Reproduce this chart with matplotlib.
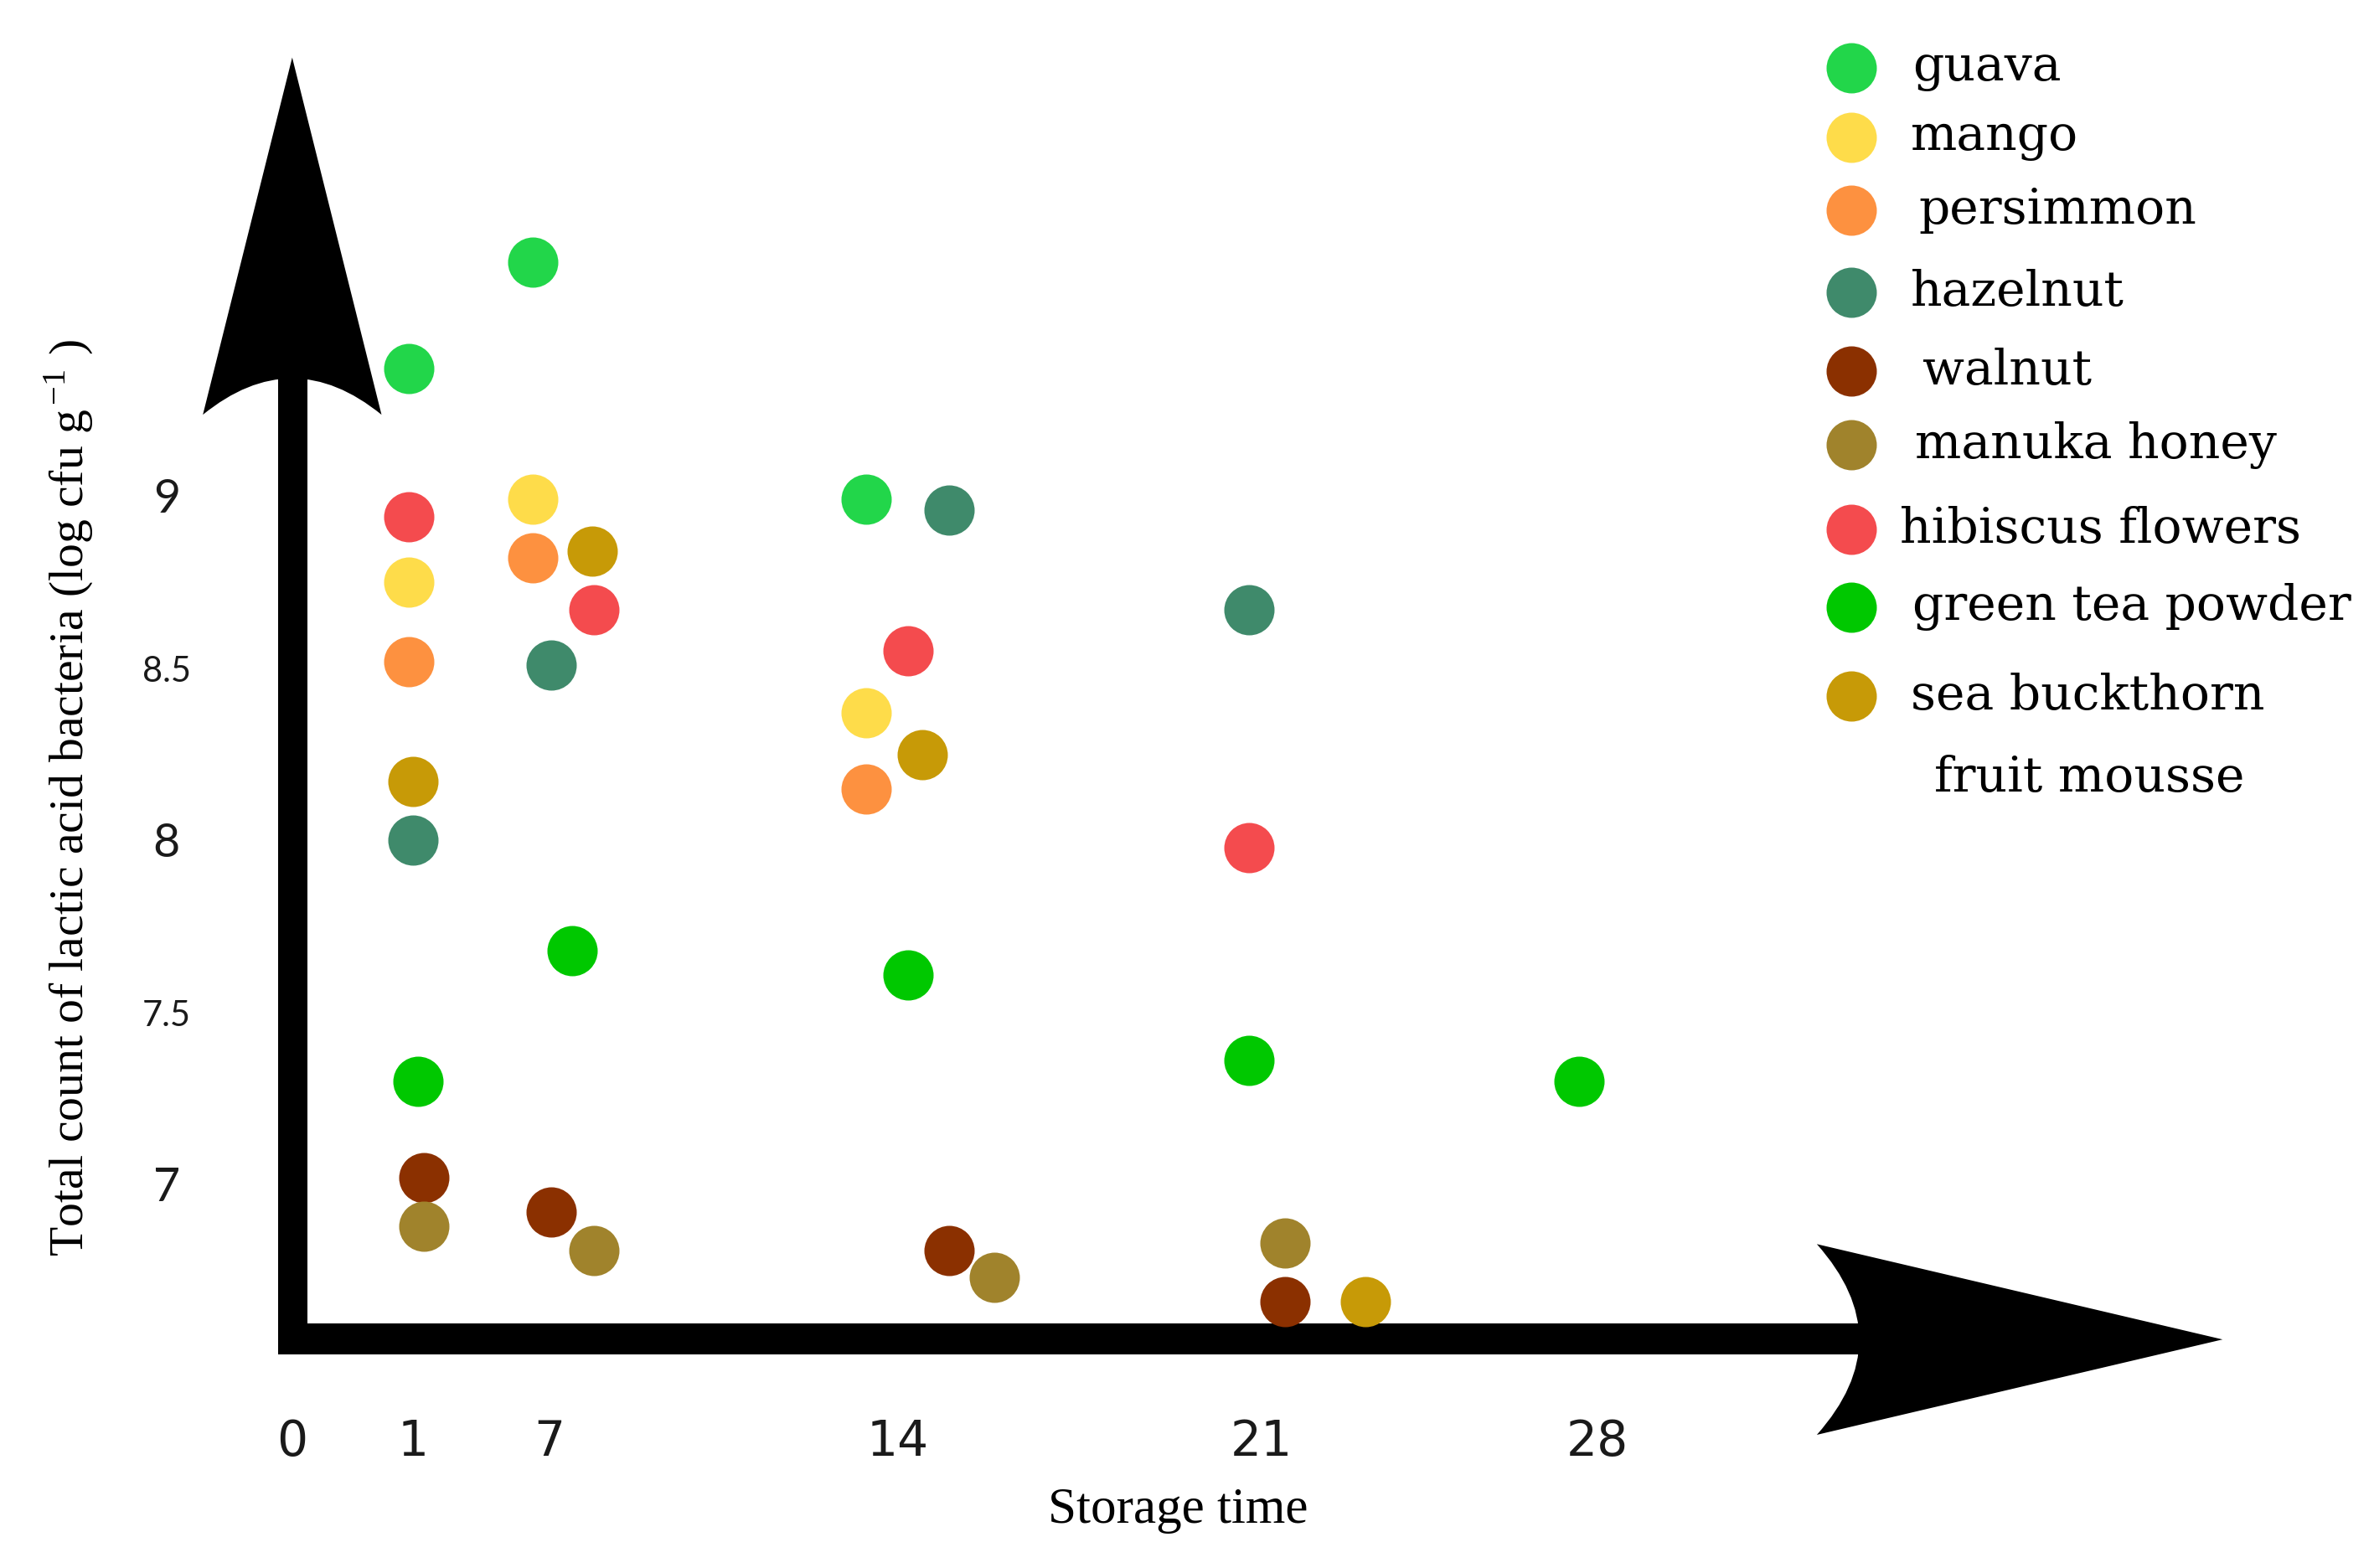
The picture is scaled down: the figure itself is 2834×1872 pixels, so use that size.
import matplotlib
matplotlib.use("Agg")
import matplotlib.pyplot as plt
from matplotlib.path import Path
from matplotlib.patches import PathPatch, Rectangle

plt.rcParams["mathtext.fontset"] = "stix"

# series names and colours
series = ["guava", "mango", "persimmon", "hazelnut", "walnut", "manuka honey",
          "hibiscus flowers", "green tea powder", "sea buckthorn\nfruit mousse"]
colors = ["#22d64a", "#fedc4a", "#fd9140", "#3f8a6b", "#8b3000", "#a0832c",
          "#f44b4e", "#00c800", "#c79a07"]

# x = position along the storage-time arrow, y = log cfu/g
guava_x = [7.7, 15.9, 37.9]
guava_y = [9.38, 9.69, 9.00]
mango_x = [7.7, 15.9, 37.9]
mango_y = [8.76, 9.00, 8.38]
persimmon_x = [7.7, 15.9, 37.9]
persimmon_y = [8.53, 8.83, 8.16]
hazelnut_x = [8.0, 17.1, 43.4, 63.2]
hazelnut_y = [8.01, 8.52, 8.97, 8.68]
walnut_x = [8.7, 17.1, 43.4, 65.6]
walnut_y = [7.03, 6.93, 6.82, 6.67]
manuka_x = [8.7, 19.9, 46.4, 65.6]
manuka_y = [6.89, 6.82, 6.74, 6.84]
hibiscus_x = [7.7, 19.9, 40.7, 63.2]
hibiscus_y = [8.95, 8.68, 8.56, 7.99]
greentea_x = [8.3, 18.5, 40.7, 63.2, 85.0]
greentea_y = [7.31, 7.69, 7.62, 7.37, 7.31]
buckthorn_x = [8.0, 19.8, 41.6, 70.9]
buckthorn_y = [8.18, 8.85, 8.26, 6.67]

xs = [guava_x, mango_x, persimmon_x, hazelnut_x, walnut_x, manuka_x,
      hibiscus_x, greentea_x, buckthorn_x]
ys = [guava_y, mango_y, persimmon_y, hazelnut_y, walnut_y, manuka_y,
      hibiscus_y, greentea_y, buckthorn_y]

# axis labels
xtick_pos = [0, 8.0, 17.0, 40.0, 64.0, 86.2]
xtick_labels = ["0", "1", "7", "14", "21", "28"]
ytick_vals = [9, 8.5, 8, 7.5, 7]
ytick_labels = ["9", "8.5", "8", "7.5", "7"]

fig = plt.figure(figsize=(28.34, 18.72), dpi=100)

# decoration layer (arrows, legend, labels), units of a 1568 x 1036 canvas
deco = fig.add_axes([0, 0, 1, 1])
deco.set_xlim(0, 1568)
deco.set_ylim(1036, 0)
deco.axis("off")


def arrow_head(tip, c1, ctrl, c2):
    verts = [tip, c1, ctrl, c2, tip]
    codes = [Path.MOVETO, Path.LINETO, Path.CURVE3, Path.CURVE3, Path.CLOSEPOLY]
    return PathPatch(Path(verts, codes), facecolor="black", edgecolor="black", lw=0)


# y axis arrow
deco.add_patch(Rectangle((183.5, 245), 19.5, 650, color="black", lw=0))
deco.add_patch(arrow_head((193, 38), (252, 274), (193, 226), (134, 274)))
# x axis arrow
deco.add_patch(Rectangle((183.5, 874.5), 1050, 20.5, color="black", lw=0))
deco.add_patch(arrow_head((1468, 885), (1200, 948), (1256, 885), (1200, 822)))

deco.text(45, 527, "Total count of lactic acid bacteria (log cfu g$^{\\,\\mathregular{-1}}$ )",
          rotation=90, ha="center", va="center", fontsize=41.5,
          family="Liberation Serif")
deco.text(778, 998, "Storage time", ha="center", va="center", fontsize=44,
          family="Liberation Serif")

# legend
leg_y = [45, 91, 139, 193, 245, 294, 350, 401, 460]
leg_tx = [1263, 1262, 1267, 1262, 1270, 1265, 1255, 1263, 1262]
for name, col, yy, tx in zip(series, colors, leg_y, leg_tx):
    deco.scatter([1223], [yy], s=1866, color=col, lw=0)
    first = name.split("\n")[0]
    deco.text(tx, yy, first, ha="left", va="center", fontsize=42,
              family="DejaVu Serif")
    if "\n" in name:
        deco.text(1380, yy + 54, name.split("\n")[1], ha="center", va="center",
                  fontsize=42, family="DejaVu Serif")

# data layer
ax = fig.add_axes([0, 0, 1, 1])
ax.set_xlim(-19.3, 137.5)
ax.set_ylim(5.897, 10.4505)
ax.axis("off")
ax.patch.set_alpha(0)

for x, y, col in zip(xs, ys, colors):
    ax.scatter(x, y, s=1866, color=col, lw=0, zorder=3)

for v, lab in zip(ytick_vals, ytick_labels):
    size = 30 if "." in lab else 40
    ax.text(-8.3, v, lab, ha="center", va="center", fontsize=size,
            family=["Lato", "DejaVu Sans"], color="#1a1a1a")

for p, lab in zip(xtick_pos, xtick_labels):
    ax.text(p, 6.262, lab, ha="center", va="center", fontsize=42,
            family=["Liberation Sans Narrow", "DejaVu Sans"], color="#1a1a1a")

fig.savefig("out.png", dpi=100)
